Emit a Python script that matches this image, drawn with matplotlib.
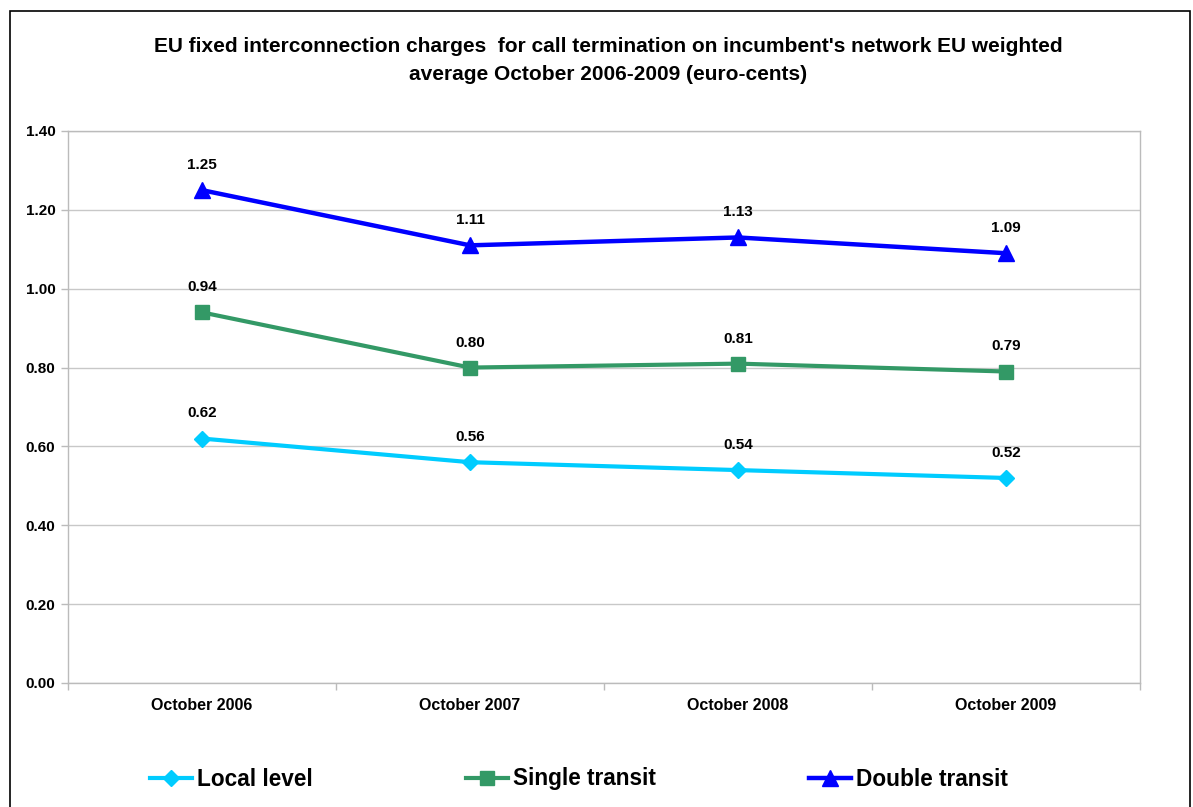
import matplotlib
matplotlib.use("Agg")
import matplotlib.pyplot as plt
from matplotlib.patches import Rectangle

plt.rcParams['font.family'] = ['Liberation Sans', 'DejaVu Sans']
plt.rcParams['font.weight'] = 'bold'

categories = ["October 2006", "October 2007", "October 2008", "October 2009"]
local_level = [0.62, 0.56, 0.54, 0.52]
single_transit = [0.94, 0.80, 0.81, 0.79]
double_transit = [1.25, 1.11, 1.13, 1.09]
local_labels = ["0.62", "0.56", "0.54", "0.52"]
single_labels = ["0.94", "0.80", "0.81", "0.79"]
double_labels = ["1.25", "1.11", "1.13", "1.09"]
yticks = [0.0, 0.2, 0.4, 0.6, 0.8, 1.0, 1.2, 1.4]

fig = plt.figure(figsize=(11.93, 8.07), dpi=100)
ax = fig.add_axes([68/1193, 1-683/807, (1140-68)/1193, (683-131)/807])

x = list(range(len(categories)))
series = [
    ("Local level", local_level, local_labels, "#00CCFF", "D", 8, 3.0),
    ("Single transit", single_transit, single_labels, "#339966", "s", 10, 3.0),
    ("Double transit", double_transit, double_labels, "#0000FF", "^", 11, 3.2),
]
handles = []
for name, vals, labs, col, mk, ms, lw in series:
    h, = ax.plot(x, vals, color=col, marker=mk, markersize=ms, linewidth=lw,
                 label=name, zorder=3)
    handles.append(h)
    for xi, v, t in zip(x, vals, labs):
        ax.annotate(t, (xi, v), xytext=(0, 13), textcoords="offset points",
                    ha="center", va="bottom", fontsize=11, fontweight="bold")

ax.set_xlim(-0.5, 3.5)
ax.set_ylim(0, 1.4)
ax.set_yticks(yticks)
ax.set_yticklabels([f"{v:.2f}" for v in yticks])
ax.set_xticks(x)
ax.set_xticklabels(categories)
ax.set_xticks([-0.5, 0.5, 1.5, 2.5, 3.5], minor=True)
ax.tick_params(axis="x", which="major", length=0, pad=11, labelsize=11.5)
ax.tick_params(axis="x", which="minor", length=5, color="#BBBBBB", width=1)
ax.tick_params(axis="y", length=5, color="#BBBBBB", width=1, labelsize=11, pad=4)
ax.grid(axis="y", color="#C8C8C8", linewidth=1)
ax.set_axisbelow(True)
for s in ["left", "right", "top", "bottom"]:
    ax.spines[s].set_color("#BBBBBB")
    ax.spines[s].set_linewidth(1)

fig.text(608/1193, 1-60.5/807,
         "EU fixed interconnection charges  for call termination on incumbent's network EU weighted\naverage October 2006-2009 (euro-cents)",
         ha="center", va="center", fontsize=15, fontweight="bold", linespacing=1.55)

fig.legend(handles=handles, loc="center", bbox_to_anchor=(579/1193, 1-779/807),
           ncol=3, frameon=False, handlelength=1.85,
           handletextpad=0.25, columnspacing=6.75, prop={"weight": "bold", "size": 16.3})

fig.patches.append(Rectangle((10/1193, -0.05), (1190-10)/1193, 1.05 - 11/807,
                             transform=fig.transFigure, fill=False,
                             edgecolor="black", linewidth=1.2))

fig.savefig("out.png", dpi=100)
